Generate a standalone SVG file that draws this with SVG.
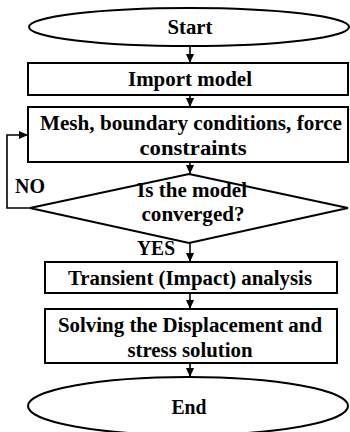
<svg xmlns="http://www.w3.org/2000/svg" width="350" height="432" viewBox="0 0 350 432">
<style>
.shape{fill:#fff;stroke:#000;stroke-width:2}
.lbl{font-family:"Liberation Serif","Times New Roman",serif;font-weight:bold;font-size:20.5px;fill:#000;text-anchor:middle}
.side{font-family:"Liberation Serif","Times New Roman",serif;font-weight:bold;font-size:20.5px;fill:#000}
.conn{fill:none;stroke:#000;stroke-width:1.6}
</style>
<defs>
<marker id="ah" markerWidth="9" markerHeight="8" refX="9" refY="4" orient="auto" markerUnits="userSpaceOnUse">
<path d="M0,0 L9,4 L0,8 z" fill="#000"/>
</marker>
</defs>
<rect width="350" height="432" fill="#fff"/>
<g id="start">
<ellipse class="shape" cx="189" cy="27" rx="160" ry="19"/>
<text class="lbl" x="190" y="34" textLength="45" lengthAdjust="spacingAndGlyphs">Start</text>
</g>
<g id="import">
<rect class="shape" x="28" y="63" width="320" height="32"/>
<text class="lbl" x="190" y="86" textLength="124" lengthAdjust="spacingAndGlyphs">Import model</text>
</g>
<g id="mesh">
<rect class="shape" x="28" y="107" width="320" height="55"/>
<text class="lbl" x="191" y="130" textLength="302" lengthAdjust="spacingAndGlyphs">Mesh, boundary conditions, force</text>
<text class="lbl" x="193" y="155" textLength="107" lengthAdjust="spacingAndGlyphs">constraints</text>
</g>
<g id="decision">
<polygon class="shape" points="189,174 348,208 189,243 30,208"/>
<text class="lbl" x="192" y="197" textLength="110" lengthAdjust="spacingAndGlyphs">Is the model</text>
<text class="lbl" x="193" y="221" textLength="103" lengthAdjust="spacingAndGlyphs">converged?</text>
</g>
<g id="transient">
<rect class="shape" x="45" y="262" width="292" height="31"/>
<text class="lbl" x="190" y="285" textLength="244" lengthAdjust="spacingAndGlyphs">Transient (Impact) analysis</text>
</g>
<g id="solving">
<rect class="shape" x="45" y="309" width="292" height="54"/>
<text class="lbl" x="190" y="332" textLength="264" lengthAdjust="spacingAndGlyphs">Solving the Displacement and</text>
<text class="lbl" x="190" y="357" textLength="125" lengthAdjust="spacingAndGlyphs">stress solution</text>
</g>
<g id="end">
<ellipse class="shape" cx="188" cy="406" rx="160" ry="29"/>
<text class="lbl" x="189" y="414" textLength="35" lengthAdjust="spacingAndGlyphs">End</text>
</g>
<g id="connectors">
<line class="conn" x1="190" y1="46" x2="190" y2="63" marker-end="url(#ah)"/>
<line class="conn" x1="190" y1="95" x2="190" y2="107" marker-end="url(#ah)"/>
<line class="conn" x1="190" y1="162" x2="190" y2="174" marker-end="url(#ah)"/>
<line class="conn" x1="190" y1="243" x2="190" y2="262" marker-end="url(#ah)"/>
<line class="conn" x1="190" y1="293" x2="190" y2="309" marker-end="url(#ah)"/>
<line class="conn" x1="190" y1="363" x2="190" y2="377" marker-end="url(#ah)"/>
<polyline class="conn" points="30,208 7,208 7,135 28,135" marker-end="url(#ah)"/>
<text class="side" x="15" y="193" textLength="30" lengthAdjust="spacingAndGlyphs">NO</text>
<text class="side" x="137" y="255" textLength="38" lengthAdjust="spacingAndGlyphs">YES</text>
</g>
</svg>
